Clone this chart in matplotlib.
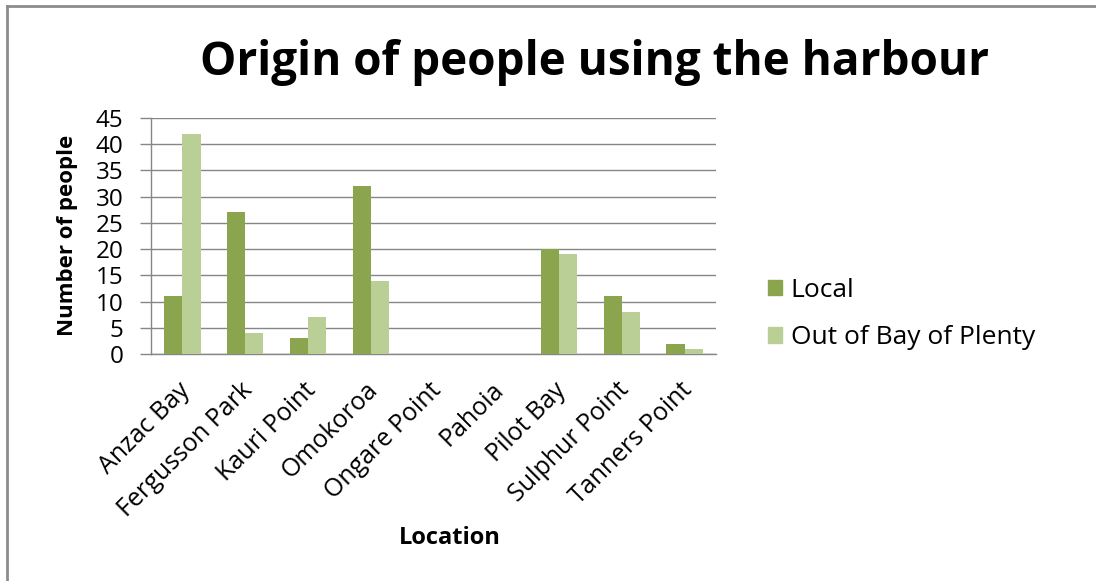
import matplotlib
matplotlib.use('Agg')
import matplotlib.pyplot as plt
from matplotlib.lines import Line2D
from matplotlib.patches import Patch
from matplotlib.transforms import ScaledTranslation
import numpy as np

plt.rcParams['font.family'] = ['Open Sans', 'DejaVu Sans']

# harbour survey counts
locations = ['Anzac Bay', 'Fergusson Park', 'Kauri Point', 'Omokoroa', 'Ongare Point',
             'Pahoia', 'Pilot Bay', 'Sulphur Point', 'Tanners Point']
local = [11, 27, 3, 32, 0, 0, 20, 11, 2]
out_of_bop = [42, 4, 7, 14, 0, 0, 19, 8, 1]

W, H = 1096, 581
fig = plt.figure(figsize=(W / 100, H / 100), dpi=100)

# plot area placed in pixel terms
ax = fig.add_axes([151 / W, (H - 354) / H, 565 / W, 236 / H])

x = np.arange(len(locations))
bw = 0.29
ax.bar(x - bw / 2, local, bw, color='#8AA54D', label='Local', zorder=3)
ax.bar(x + bw / 2, out_of_bop, bw, color='#BACF95', label='Out of Bay of Plenty', zorder=3)

ax.set_xlim(-0.5, len(locations) - 0.5)
ax.set_ylim(0, 45)
ax.set_yticks(range(0, 50, 5))
ax.yaxis.grid(True, color='#868686', linewidth=1, zorder=0)
ax.set_axisbelow(True)

for s in ['top', 'right']:
    ax.spines[s].set_visible(False)
for s in ['left', 'bottom']:
    ax.spines[s].set_color('#868686')
    ax.spines[s].set_linewidth(1)

ax.tick_params(axis='y', length=8, width=1, color='#868686', labelsize=17.5, pad=12)
ax.tick_params(axis='x', length=0, labelsize=18, pad=17)
ax.set_xticks(x)
ax.set_xticklabels(locations, rotation=45, ha='right', rotation_mode='anchor')
# nudge the slanted names a little to the left
for lbl in ax.get_xticklabels():
    lbl.set_transform(lbl.get_transform() + ScaledTranslation(-5 / 100, 0, fig.dpi_scale_trans))

ax.set_ylabel('Number of people', fontsize=16, fontweight='bold', va='center')
ax.yaxis.set_label_coords((68 - 151) / 565, (354 - 235) / 236)
ax.set_xlabel('Location', fontsize=17, fontweight='bold', va='center')
ax.xaxis.set_label_coords((450 - 151) / 565, (354 - 538) / 236)

fig.text(595 / W, 1 - 62 / H, 'Origin of people using the harbour',
         fontsize=33, fontweight='bold', ha='center', va='center')

handles = [Patch(color='#8AA54D'), Patch(color='#BACF95')]
fig.legend(handles, ['Local', 'Out of Bay of Plenty'], loc='center left',
           bbox_to_anchor=(744 / W, 1 - 314 / H), frameon=False, fontsize=19,
           handlelength=0.53, handleheight=0.53, handletextpad=0.34, labelspacing=0.85)

# outer frame edges (top and left)
fig.add_artist(Line2D([7 / W, 1], [1 - 6 / H, 1 - 6 / H], color='#8C8C8C', linewidth=2))
fig.add_artist(Line2D([7 / W, 7 / W], [0, 1 - 6 / H], color='#8C8C8C', linewidth=2))

fig.savefig('out.png', dpi=100)
